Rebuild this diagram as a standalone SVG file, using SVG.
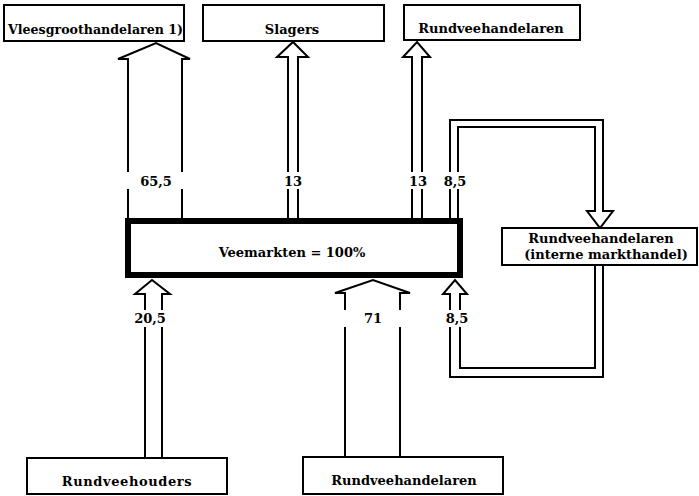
<svg xmlns="http://www.w3.org/2000/svg" width="699" height="496" viewBox="0 0 699 496">
<style>
.box{fill:#fff;stroke:#000;stroke-width:2}
.mkt{fill:#fff;stroke:#000;stroke-width:6}
.arr{fill:none;stroke:#000;stroke-width:2;stroke-linejoin:miter}
.t{font-family:"DejaVu Serif","Liberation Serif",serif;font-weight:bold;font-size:13px;text-anchor:middle;fill:#000}
</style>
<rect x="0" y="0" width="699" height="496" fill="#fff"/>
<g id="connectors">
  <path class="arr" d="M128,172 V59 H118 L156,43 L190,59 H182 V172 M128,189 V218 M182,189 V218"/>
  <text class="t" x="156" y="186">65,5</text>
  <path class="arr" d="M288,172 V57 H277 L293,42 L308,57 H298 V172 M288,189 V218 M298,189 V218"/>
  <text class="t" x="293" y="186">13</text>
  <path class="arr" d="M412,172 V57 H403 L417,42 L430,57 H422 V172 M412,189 V218 M422,189 V218"/>
  <text class="t" x="418" y="186">13</text>
  <path class="arr" d="M450,218 V189 M450,172 V120 H603 V211 H613 L600,228 L587,211 H595 V127 H458 V172 M458,189 V218"/>
  <text class="t" x="455" y="186">8,5</text>
  <path class="arr" d="M145,457 V327 M145,310 V294 H135 L152,280 L170,294 H162 V310 M162,327 V457"/>
  <text class="t" x="150" y="323">20,5</text>
  <path class="arr" d="M345,457 V327 M345,310 V293 H335 L373,280 L410,293 H400 V310 M400,327 V457"/>
  <text class="t" x="373" y="323">71</text>
  <path class="arr" d="M450,310 V294 H443 L455,280 L467,294 H460 V310 M450,327 V377 H603 V265 M460,327 V368 H595 V265"/>
  <text class="t" x="457" y="323">8,5</text>
</g>
<g id="vleesgroothandelaren">
  <rect class="box" x="4" y="5" width="180" height="36"/>
  <text class="t" x="8" y="34" style="text-anchor:start" textLength="175" lengthAdjust="spacingAndGlyphs">Vleesgroothandelaren 1)</text>
</g>
<g id="slagers">
  <rect class="box" x="203" y="5" width="181" height="36"/>
  <text class="t" x="292" y="34">Slagers</text>
</g>
<g id="rundveehandelaren-top">
  <rect class="box" x="404" y="5" width="176" height="35"/>
  <text class="t" x="491" y="33">Rundveehandelaren</text>
</g>
<g id="veemarkten">
  <rect class="mkt" x="128" y="221" width="332" height="54"/>
  <text class="t" x="292" y="257">Veemarkten = 100%</text>
</g>
<g id="rundveehandelaren-intern">
  <rect class="box" x="502" y="228" width="195" height="37"/>
  <text class="t" x="601" y="243">Rundveehandelaren</text>
  <text class="t" x="606" y="259">(interne markthandel)</text>
</g>
<g id="rundveehouders">
  <rect class="box" x="27" y="458" width="200" height="36"/>
  <text class="t" x="127" y="486" style="letter-spacing:0.6px">Rundveehouders</text>
</g>
<g id="rundveehandelaren-bottom">
  <rect class="box" x="303" y="457" width="200" height="37"/>
  <text class="t" x="404" y="485">Rundveehandelaren</text>
</g>
</svg>
